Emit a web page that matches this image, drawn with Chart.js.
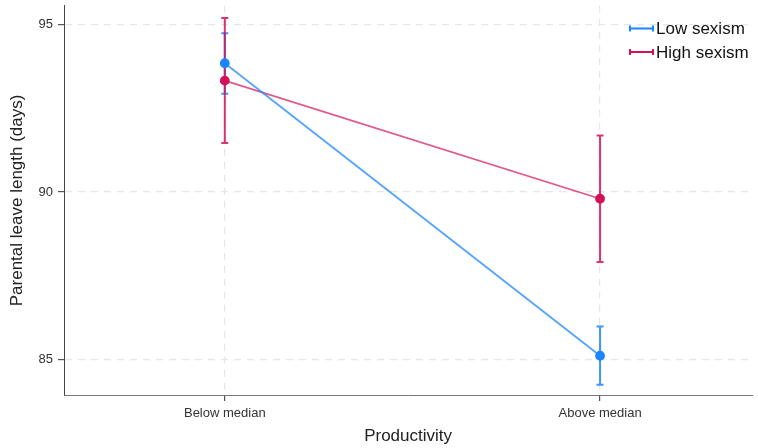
<!DOCTYPE html>
<html>
<head>
<meta charset="utf-8">
<script src="https://cdn.jsdelivr.net/npm/chart.js@4"></script>
<style>
  body { margin: 0; background: #fff; }
  #wrap { width: 758px; height: 448px; }
</style>
</head>
<body>
<div id="wrap"><canvas id="myChart" width="758" height="448"></canvas></div>
<script>
// categories on the x axis
var categories = ['Below median', 'Above median'];
var seriesNames = ['Low sexism', 'High sexism'];

// means and 95% CI bounds
var lowMean = [93.85, 85.11];
var lowLower = [92.94, 84.24];
var lowUpper = [94.75, 85.98];

var highMean = [93.33, 89.80];
var highLower = [91.47, 87.91];
var highUpper = [95.20, 91.69];

var yTicks = [85, 90, 95];

var blue = '#1a85ff';
var red = '#d41159';

function toPoints(vals) {
  return vals.map(function (v, i) { return { x: i, y: v }; });
}

// error bars go under the lines and markers
var errorBars = {
  id: 'errorBars',
  beforeDatasetsDraw: function (chart) {
    var ctx = chart.ctx;
    var xs = chart.scales.x, ys = chart.scales.y;
    var sets = [
      { lo: lowLower, hi: lowUpper, color: 'rgba(26,133,255,0.85)' },
      { lo: highLower, hi: highUpper, color: 'rgba(212,17,89,0.85)' }
    ];
    ctx.save();
    ctx.lineWidth = 2;
    sets.forEach(function (s) {
      ctx.strokeStyle = s.color;
      for (var i = 0; i < categories.length; i++) {
        var x = xs.getPixelForValue(i);
        var y1 = ys.getPixelForValue(s.lo[i]);
        var y2 = ys.getPixelForValue(s.hi[i]);
        ctx.beginPath();
        ctx.moveTo(x, y1); ctx.lineTo(x, y2);
        ctx.moveTo(x - 3.5, y1); ctx.lineTo(x + 3.5, y1);
        ctx.moveTo(x - 3.5, y2); ctx.lineTo(x + 3.5, y2);
        ctx.stroke();
      }
    });
    ctx.restore();
  }
};

// legend with error-bar style keys
var barLegend = {
  id: 'barLegend',
  afterDraw: function (chart) {
    var ctx = chart.ctx;
    var colors = [blue, red];
    ctx.save();
    ctx.font = '17px "Liberation Sans", Arial, sans-serif';
    ctx.textBaseline = 'middle';
    ctx.lineWidth = 2;
    seriesNames.forEach(function (name, i) {
      var y = 28.5 + i * 23.5;
      ctx.strokeStyle = colors[i];
      ctx.beginPath();
      ctx.moveTo(630, y); ctx.lineTo(653, y);
      ctx.moveTo(630, y - 3); ctx.lineTo(630, y + 3);
      ctx.moveTo(653, y - 3); ctx.lineTo(653, y + 3);
      ctx.stroke();
      ctx.fillStyle = '#111';
      ctx.fillText(name, 656, y + 1);
    });
    ctx.restore();
  }
};

var ctx = document.getElementById('myChart').getContext('2d');
var chart = new Chart(ctx, {
  type: 'line',
  data: {
    datasets: [{
      label: seriesNames[0],
      data: toPoints(lowMean),
      borderColor: 'rgba(26,133,255,0.75)',
      backgroundColor: blue,
      pointBackgroundColor: blue,
      pointBorderColor: blue,
      pointRadius: 4,
      borderWidth: 1.8
    }, {
      label: seriesNames[1],
      data: toPoints(highMean),
      borderColor: 'rgba(212,17,89,0.7)',
      backgroundColor: red,
      pointBackgroundColor: red,
      pointBorderColor: red,
      pointRadius: 4,
      borderWidth: 1.8
    }]
  },
  options: {
    responsive: false,
    animation: false,
    layout: { padding: { top: 5, right: 0 } },
    plugins: {
      legend: { display: false },
      tooltip: { enabled: false }
    },
    scales: {
      x: {
        type: 'linear',
        min: -0.4285,
        max: 1.4054,
        afterBuildTicks: function (scale) {
          scale.ticks = categories.map(function (c, i) { return { value: i }; });
        },
        afterFit: function (scale) {
          scale.height = 53;
          scale.paddingLeft = 0;
          scale.paddingRight = 0;
        },
        ticks: {
          callback: function (v) { return categories[v]; },
          color: '#333',
          font: { family: '"Liberation Sans", Arial, sans-serif', size: 13 },
          padding: 5,
          maxRotation: 0
        },
        grid: { color: '#e6e6e6', tickColor: '#555', tickLength: 6, lineWidth: 1.2 },
        border: { color: '#777', width: 1, dash: [7, 6] },
        title: {
          display: true,
          text: 'Productivity',
          color: '#222',
          font: { family: '"Liberation Sans", Arial, sans-serif', size: 17 },
          padding: { top: 0, bottom: 1 }
        }
      },
      y: {
        min: 83.935,
        max: 95.567,
        afterBuildTicks: function (scale) {
          scale.ticks = yTicks.map(function (v) { return { value: v }; });
        },
        afterFit: function (scale) {
          scale.width = 64;
          scale.paddingTop = 0;
          scale.paddingBottom = 0;
        },
        ticks: {
          color: '#333',
          font: { family: '"Liberation Sans", Arial, sans-serif', size: 13 },
          padding: 5
        },
        grid: { color: '#e6e6e6', tickColor: '#555', tickLength: 6, lineWidth: 1.2 },
        border: { color: '#444', width: 1, dash: [7, 6] },
        title: {
          display: true,
          text: 'Parental leave length (days)',
          color: '#222',
          font: { family: '"Liberation Sans", Arial, sans-serif', size: 17 },
          padding: { top: 7, bottom: 0 }
        }
      }
    }
  },
  plugins: [errorBars, barLegend]
});
</script>
</body>
</html>
